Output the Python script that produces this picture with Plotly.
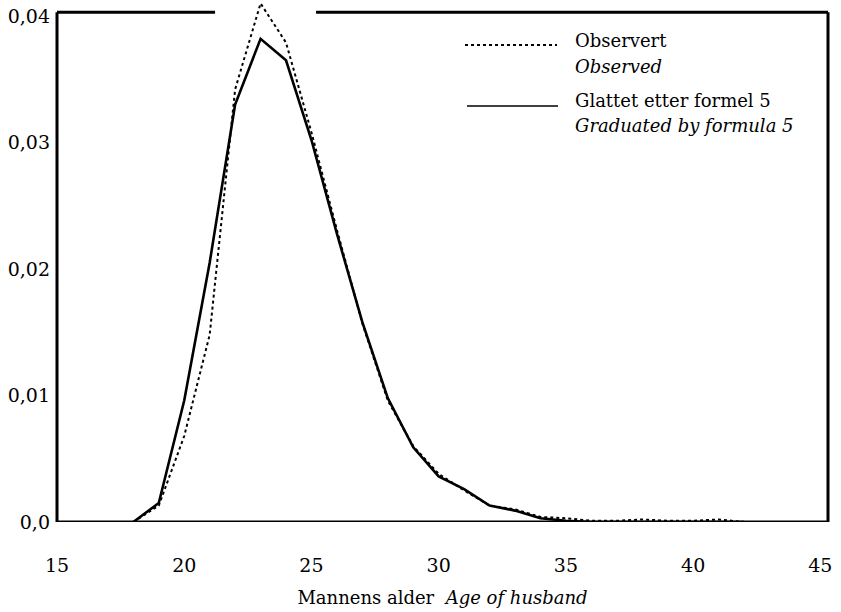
import plotly.graph_objects as go

ages = list(range(18, 43))
observed = [0.0, 0.0013, 0.0068, 0.0148, 0.0342, 0.0410, 0.0379, 0.0308, 0.0231,
            0.0157, 0.0096, 0.0060, 0.0038, 0.0025, 0.0013, 0.0010, 0.0004, 0.0003,
            0.0001, 0.0001, 0.0002, 0.0001, 0.0001, 0.0002, 0.0]
graduated = [0.0, 0.0015, 0.0096, 0.0205, 0.0330, 0.0382, 0.0365, 0.0302, 0.0228,
             0.0158, 0.0098, 0.0059, 0.0036, 0.0026, 0.0013, 0.0009, 0.0003, 0.0001,
             0.0, 0.0, 0.0, 0.0, 0.0, 0.0, 0.0]

x_ticks = [15, 20, 25, 30, 35, 40, 45]
y_ticks = [0.0, 0.01, 0.02, 0.03, 0.04]
y_tick_text = ["0,0", "0,01", "0,02", "0,03", "0,04"]

legend_obs = ("Observert", "Observed")
legend_grad = ("Glattet etter formel 5", "Graduated by formula 5")
x_title = "Mannens alder  <i>Age of husband</i>"

FONT = "DejaVu Serif"
Y_TOP = 0.04111
FRAME_TOP = 0.0403

fig = go.Figure()
fig.add_trace(go.Scatter(x=ages, y=observed, mode="lines", name="Observert",
                         line=dict(color="black", width=2, dash="dot"),
                         showlegend=False))
fig.add_trace(go.Scatter(x=ages, y=graduated, mode="lines", name="Glattet",
                         line=dict(color="black", width=2.6),
                         showlegend=False))

# frame (top edge broken where the peak rises through it)
fl = dict(color="black", width=3)
fig.add_shape(type="line", xref="paper", yref="y", x0=0, x1=0, y0=0, y1=FRAME_TOP, line=fl)
fig.add_shape(type="line", xref="paper", yref="y", x0=1, x1=1, y0=0, y1=FRAME_TOP, line=fl)
fig.add_shape(type="line", xref="paper", yref="y", x0=0, x1=1, y0=0, y1=0, line=fl)
fig.add_shape(type="line", xref="paper", yref="y", x0=0, x1=0.205, y0=FRAME_TOP, y1=FRAME_TOP, line=fl)
fig.add_shape(type="line", xref="paper", yref="y", x0=0.336, x1=1, y0=FRAME_TOP, y1=FRAME_TOP, line=fl)

# legend drawn inside the plot
fig.add_shape(type="line", xref="paper", yref="paper", x0=(465-57)/771, x1=(557-57)/771,
              y0=(522-45)/520, y1=(522-45)/520, line=dict(color="black", width=2, dash="dot"))
fig.add_shape(type="line", xref="paper", yref="paper", x0=(467-57)/771, x1=(558-57)/771,
              y0=(522-106)/520, y1=(522-106)/520, line=dict(color="black", width=1.5))
tx = (573-57)/771
for text, ypx, italic in [(legend_obs[0], 41, False), (legend_obs[1], 66, True),
                          (legend_grad[0], 100, False), (legend_grad[1], 125, True)]:
    fig.add_annotation(xref="paper", yref="paper", x=tx, y=(522-ypx)/520,
                       text=f"<i>{text}</i>" if italic else text, showarrow=False,
                       xanchor="left", yanchor="middle",
                       font=dict(family=FONT, size=18, color="black"))

fig.update_layout(
    width=841, height=612,
    margin=dict(l=57, r=13, t=2, b=90),
    plot_bgcolor="white", paper_bgcolor="white",
    font=dict(family=FONT, size=18, color="black"),
    xaxis=dict(range=[15, 45.3], tickvals=x_ticks, showgrid=False, zeroline=False,
               showline=False, ticks="", tickfont=dict(size=19), ticklabelstandoff=30,
               title=dict(text=x_title, font=dict(size=18), standoff=16)),
    yaxis=dict(range=[0, Y_TOP], tickvals=y_ticks, ticktext=y_tick_text,
               showgrid=False, zeroline=False, showline=False, ticks="",
               tickfont=dict(size=19), ticklabelstandoff=6),
)

fig.write_html("out.html")
